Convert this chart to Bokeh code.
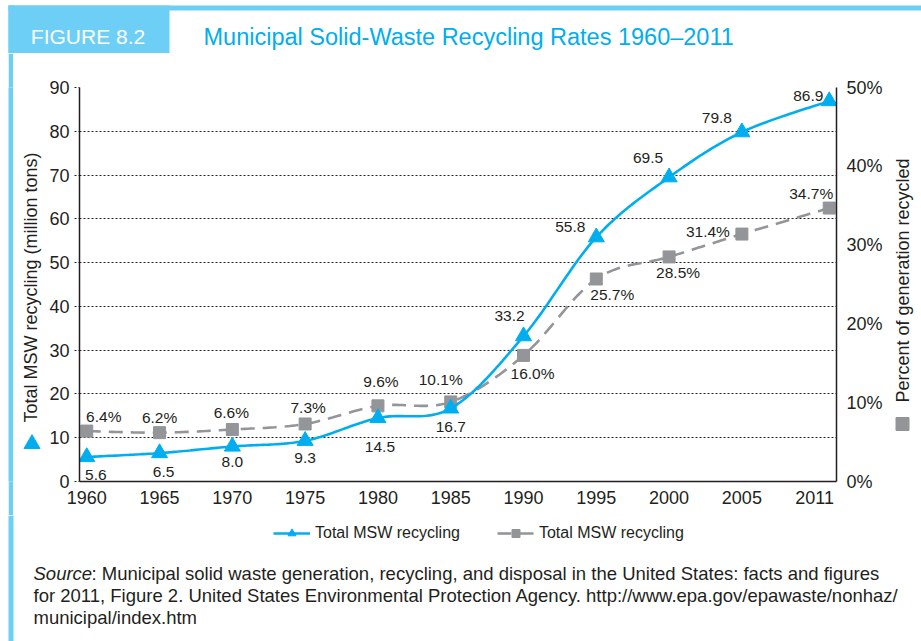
import numpy as np
from math import pi
from bokeh.plotting import figure
from bokeh.layouts import column, row
from bokeh.models import (Range1d, LinearAxis, FixedTicker, PrintfTickFormatter,
                          Legend, LegendItem)
from bokeh.core.properties import value
from bokeh.embed import file_html
from bokeh.resources import INLINE

# ---------------- data ----------------
years = [1960, 1965, 1970, 1975, 1980, 1985, 1990, 1995, 2000, 2005, 2011]
tons = [5.6, 6.5, 8.0, 9.3, 14.5, 16.7, 33.2, 55.8, 69.5, 79.8, 86.9]
pct = [6.4, 6.2, 6.6, 7.3, 9.6, 10.1, 16.0, 25.7, 28.5, 31.4, 34.7]
tons_labels = ["5.6", "6.5", "8.0", "9.3", "14.5", "16.7", "33.2", "55.8", "69.5", "79.8", "86.9"]
pct_labels = ["6.4%", "6.2%", "6.6%", "7.3%", "9.6%", "10.1%", "16.0%", "25.7%", "28.5%", "31.4%", "34.7%"]
x_ticks = [1960, 1965, 1970, 1975, 1980, 1985, 1990, 1995, 2000, 2005, 2010]
x_tick_labels = ["1960", "1965", "1970", "1975", "1980", "1985", "1990", "1995", "2000", "2005", "2011"]
y_ticks = [0, 10, 20, 30, 40, 50, 60, 70, 80, 90]
pct_ticks = [0, 10, 20, 30, 40, 50]

series_names = ["Total MSW recycling", "Total MSW recycling"]
left_title = "Total MSW recycling (million tons)"
right_title = "Percent of generation recycled"
fig_no = "FIGURE 8.2"
title = "Municipal Solid-Waste Recycling Rates 1960\u20132011"
source_lines = [
    ": Municipal solid waste generation, recycling, and disposal in the United States: facts and figures",
    "for 2011, Figure 2. United States Environmental Protection Agency. http://www.epa.gov/epawaste/nonhaz/",
    "municipal/index.htm",
]

# label offsets (screen px) for value labels
tons_dx = [9, 4, 0, 0, 2, 0, -14, -26, -21, -25, -21]
tons_dy = [18.5, 19, 16, 17.5, 29, 19, -20, -10, -19, -14, -5]
pct_dx = [17, 0, -1, 3, 3, -10, 9, 16, 9, -34, -18]
pct_dy = [-15, -15, -17, -16, -24, -22, 18, 16, 16, -3, -15]

BLUE = "#00AEEF"
LIGHT = "#6DCFF6"
GRAY = "#939598"
INK = "#231f20"
FONT = "Liberation Sans"

W, H = 921, 641
HEAD_H = 53
MID_H = 462
FOOT_H = H - HEAD_H - MID_H
BORDER_T, BORDER_B = 34, 34
FRAME_TOP = HEAD_H + BORDER_T          # page y of the plot frame top
FRAME_BOT = HEAD_H + MID_H - BORDER_B  # page y of the plot frame bottom
MAIN_X0, MAIN_X1 = 46, 885


def smooth(xs, ys, n=24):
    P = np.column_stack([np.asarray(xs, float), np.asarray(ys, float)])
    P = np.vstack([P[0], P, P[-1]])
    out = []
    t = np.linspace(0, 1, n, endpoint=False)[:, None]
    for i in range(1, len(P) - 2):
        p0, p1, p2, p3 = P[i - 1], P[i], P[i + 1], P[i + 2]
        seg = 0.5 * ((2 * p1) + (-p0 + p2) * t + (2 * p0 - 5 * p1 + 4 * p2 - p3) * t ** 2
                     + (-p0 + 3 * p1 - 3 * p2 + p3) * t ** 3)
        out.append(seg)
    out.append(P[-2][None, :])
    out = np.vstack(out)
    return out[:, 0], out[:, 1]


def deco(x0, x1, y0, y1, bt=0, bb=0, fill="white"):
    """Decoration strip whose data coordinates are page pixels."""
    f = figure(width=x1 - x0, height=(y1 - y0) + bt + bb,
               x_range=Range1d(x0, x1), y_range=Range1d(y1, y0),
               output_backend="svg", toolbar_location=None,
               min_border_left=0, min_border_right=0, min_border_top=bt, min_border_bottom=bb,
               x_axis_type=None, y_axis_type=None)
    f.outline_line_color = None
    f.background_fill_color = fill
    f.border_fill_color = fill
    f.grid.visible = False
    return f


# ---------------- main chart ----------------
p = figure(width=MAIN_X1 - MAIN_X0, height=MID_H, x_range=Range1d(1959.5, 2011.5),
           y_range=Range1d(0, 90), output_backend="svg", toolbar_location=None,
           min_border_left=79 - MAIN_X0, min_border_right=MAIN_X1 - 837,
           min_border_top=BORDER_T, min_border_bottom=BORDER_B)
p.outline_line_color = None
p.background_fill_color = "white"
p.border_fill_color = "white"
p.extra_y_ranges = {"pct": Range1d(0, 50)}

xa = p.xaxis[0]
xa.ticker = FixedTicker(ticks=x_ticks)
xa.major_label_overrides = {t: l for t, l in zip(x_ticks, x_tick_labels)}
xa.major_tick_out = 0
xa.major_tick_in = 0
xa.minor_tick_out = 0
xa.minor_tick_in = 0
xa.axis_line_color = INK
xa.axis_line_width = 1.5
xa.major_label_text_font = FONT
xa.major_label_text_font_size = "18px"
xa.major_label_text_color = INK
xa.major_label_standoff = 9

ya = p.yaxis[0]
ya.ticker = FixedTicker(ticks=y_ticks)
ya.major_tick_out = 5
ya.major_tick_in = 0
ya.major_tick_line_dash = "2 2"
ya.major_tick_line_color = INK
ya.minor_tick_out = 0
ya.minor_tick_in = 0
ya.axis_line_color = INK
ya.axis_line_width = 1.5
ya.major_label_text_font = FONT
ya.major_label_text_font_size = "18px"
ya.major_label_text_color = INK
ya.major_label_standoff = 5

ra = LinearAxis(y_range_name="pct", ticker=FixedTicker(ticks=pct_ticks),
                formatter=PrintfTickFormatter(format="%d%%"))
ra.major_tick_out = 0
ra.major_tick_in = 0
ra.minor_tick_out = 0
ra.minor_tick_in = 0
ra.axis_line_color = INK
ra.axis_line_width = 1.5
ra.major_label_text_font = FONT
ra.major_label_text_font_size = "18px"
ra.major_label_text_color = INK
ra.major_label_standoff = 10
p.add_layout(ra, "right")

p.xgrid.visible = False
p.ygrid.ticker = FixedTicker(ticks=y_ticks)
p.ygrid.grid_line_color = INK
p.ygrid.grid_line_dash = "2 2"
p.ygrid.grid_line_width = 1

gx, gy = smooth(years, pct)
bx, by = smooth(years, tons)
line_style_gray = dict(line_color=GRAY, line_width=2.6, line_dash="14 8")
line_style_blue = dict(line_color=BLUE, line_width=2.6)

p.line(gx, gy, y_range_name="pct", **line_style_gray)
p.scatter(years, pct, y_range_name="pct", marker="square", size=12, color=GRAY)
p.line(bx, by, **line_style_blue)
p.scatter(years, tons, marker="triangle", size=16, color=BLUE)

p.text(x=years, y=tons, text=tons_labels, x_offset=tons_dx, y_offset=tons_dy,
       text_font=value(FONT), text_font_size=value("15.5px"), text_color=INK,
       text_align="center", text_baseline="middle")
p.text(x=years, y=pct, text=pct_labels, x_offset=pct_dx, y_offset=pct_dy, y_range_name="pct",
       text_font=value(FONT), text_font_size=value("15.5px"), text_color=INK,
       text_align="center", text_baseline="middle")

# ---------------- decorations ----------------
head = deco(0, W, 0, HEAD_H)
head.quad(left=[8, 8, 8], right=[W, 13, 169], top=[5, 5, 5], bottom=[10, HEAD_H, 53],
          fill_color=LIGHT, line_color=None)
head.text(x=[87.5], y=[36], text=[fig_no], text_font=value(FONT), text_font_size=value("21px"),
          text_color="white", text_align="center", text_baseline="middle")
head.text(x=[203], y=[36], text=[title], text_font=value(FONT), text_font_size=value("23.5px"),
          text_color=BLUE, text_align="left", text_baseline="middle")

# middle strips (their frames line up with the chart frame)
pad = deco(0, 8, FRAME_TOP, FRAME_BOT, BORDER_T, BORDER_B)
bar = deco(8, 13, FRAME_TOP, FRAME_BOT, BORDER_T, BORDER_B, fill=LIGHT)

left = deco(13, MAIN_X0, FRAME_TOP, FRAME_BOT, BORDER_T, BORDER_B)
left.scatter(x=[31.5], y=[443.4], marker="triangle", size=16, color=BLUE)
left.text(x=[30], y=[287], text=[left_title], angle=pi / 2,
          text_font=value(FONT), text_font_size=value("18px"), text_color=INK,
          text_align="center", text_baseline="middle")

right = deco(MAIN_X1, W, FRAME_TOP, FRAME_BOT, BORDER_T, BORDER_B)
right.scatter(x=[902], y=[423.5], marker="square", size=13, color=GRAY)
right.text(x=[902], y=[280], text=[right_title], angle=pi / 2,
           text_font=value(FONT), text_font_size=value("18px"), text_color=INK,
           text_align="center", text_baseline="middle")

# footer
y0 = HEAD_H + MID_H
foot = deco(0, W, y0, H)
foot.quad(left=[8], right=[13], top=[y0], bottom=[H], fill_color=LIGHT, line_color=None)
# legend renderers (same series; their data coordinates lie outside this strip's pixel ranges)
lg_blue = foot.line(bx, by, **line_style_blue)
lg_tri = foot.scatter(years, tons, marker="triangle", size=16, color=BLUE)
lg_gray = foot.line(gx, gy, **line_style_gray)
lg_sq = foot.scatter(years, pct, marker="square", size=12, color=GRAY)
legend = Legend(items=[LegendItem(label=series_names[0], renderers=[lg_blue, lg_tri]),
                       LegendItem(label=series_names[1], renderers=[lg_gray, lg_sq])],
                orientation="horizontal", location=(273, FOOT_H - (523 - y0) - 20),
                glyph_width=37, glyph_height=20, label_standoff=5, spacing=37,
                padding=0, margin=0, border_line_color=None, background_fill_alpha=0,
                label_text_font=FONT, label_text_font_size="16px", label_text_color=INK)
foot.add_layout(legend, "center")

foot.text(x=[33], y=[572.5], text=["Source"], text_font=value(FONT),
          text_font_size=value("18.5px"), text_font_style="italic", text_color=INK,
          text_align="left", text_baseline="middle")
foot.text(x=[91, 33, 33], y=[572.5, 594.5, 616.5], text=source_lines,
          text_font=value(FONT), text_font_size=value("18.5px"), text_color=INK,
          text_align="left", text_baseline="middle")

mid = row(pad, bar, left, p, right, spacing=0)
layout = column(head, mid, foot, spacing=0)
open("out.html", "w").write(file_html(layout, INLINE))
